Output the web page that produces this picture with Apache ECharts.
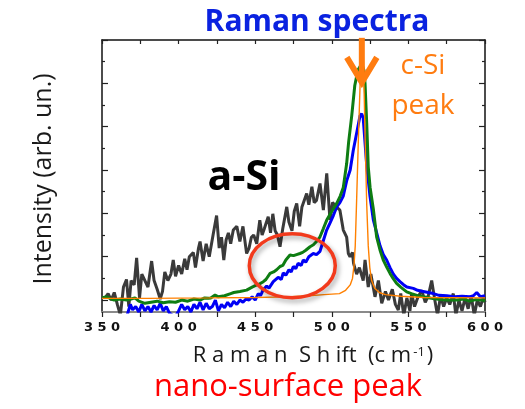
<!DOCTYPE html>
<html>
<head>
<meta charset="utf-8">
<script src="https://cdn.jsdelivr.net/npm/echarts@6/dist/echarts.min.js"></script>
<style>html,body{margin:0;padding:0;background:#fff}#c{width:525px;height:409px}</style>
</head>
<body>
<div id="c"></div>
<script>
// ---- data (Raman shift cm-1, intensity arb. units) ----
const xTicks = [350, 400, 450, 500, 550, 600];
const aSi = [[352,0.1],[354,0.3],[356,0.0],[358,0.35],[360,-0.2],[362,-0.7],[364,0.6],[366,0.95],[367.5,-0.3],[369,0.9],[371,0.7],[372.6,1.95],[374.5,0.1],[376,1.2],[378,0.9],[380,0.6],[382.4,1.8],[384,0.9],[386,0.5],[388,0.05],[389.5,0.4],[391,1.3],[393,0.9],[395,1.2],[396.5,1.85],[398,1.1],[400,1.6],[402,1.2],[404,1.9],[405.5,1.4],[407,2.0],[409.6,2.2],[411,1.5],[413,2.4],[414,2.7],[416,1.8],[418,2.6],[420,2.0],[422.7,3.08],[424.8,3.9],[426.5,2.4],[428,2.9],[429.5,1.85],[431,2.77],[432.5,3.1],[434,2.6],[435.7,3.23],[438,3.4],[440,2.7],[442,3.4],[444.4,2.15],[446,2.4],[447.5,2.9],[449,3.0],[451,2.6],[453,3.69],[454.5,3.0],[456,3.3],[458.5,3.85],[460,3.1],[461.5,3.98],[463,3.2],[464.5,3.0],[466.2,2.46],[468,3.3],[470.6,4.3],[472,3.6],[474,3.2],[475.5,4.1],[477.1,4.46],[479,3.4],[480.5,4.3],[483.6,4.92],[485,4.4],[487,5.23],[488.5,4.5],[490,4.6],[492.3,5.38],[494.5,4.15],[496.7,5.85],[498.8,3.7],[500.5,4.5],[503,4.3],[505.3,4.15],[507.5,3.23],[509.7,2.9],[510.8,2.15],[511.9,2.0],[513.5,2.2],[514.2,1.69],[516.2,1.2],[518,1.5],[520.5,0.9],[521.7,1.85],[523.8,0.6],[525.5,1.2],[528.2,0.15],[530.4,0.9],[532.6,-0.15],[535,0.4],[537,0.0],[539.5,0.5],[541.5,-0.2],[543.4,-0.46],[545,0.3],[547,-0.7],[549,0.1],[551,-0.5],[552.1,0.3],[554,-0.3],[556,0.1],[558.7,0.45],[561,-0.1],[563,0.2],[565.2,0.9],[567,0.1],[569,-0.7],[571,0.2],[573,-0.3],[575,0.1],[577,-0.2],[579.3,0.3],[581,-0.7],[583,0.0],[585,-0.5],[587,0.1],[589,-0.4],[591,0.2],[593,-0.7],[595,0.0],[597,-0.3],[599,0.15],[600,-0.1]];
const blueSpec = [[350,-0.9],[360,-0.9],[366,-0.8],[368.5,-0.2],[370,-0.45],[372,-0.3],[374,-0.55],[376,-0.2],[378,-0.5],[380,-0.3],[382,-0.55],[384,-0.25],[386,-0.45],[388,-0.15],[390,-0.5],[392,-0.3],[394,-0.6],[396,-0.7],[398,-0.75],[400,-0.5],[402,-0.2],[404,-0.45],[406,-0.3],[408,-0.55],[410,-0.2],[412,-0.4],[414,-0.1],[416,-0.45],[418,-0.15],[420,-0.4],[422,-0.3],[424,0.0],[426,-0.5],[428,-0.2],[430,-0.35],[432,-0.1],[434,-0.3],[436,-0.05],[438,-0.2],[440,0.0],[442,-0.1],[444,0.05],[446,0.0],[448,0.15],[450,0.0],[452,0.3],[453.5,0.2],[455,0.45],[457.5,0.65],[459,0.55],[461.8,0.85],[463,0.8],[465,1.05],[467,0.95],[468.3,1.25],[470,1.15],[472,1.4],[473.5,1.3],[474.9,1.55],[476.5,1.45],[478,1.7],[480,1.6],[481.4,1.85],[483,1.75],[485,2.0],[487.9,2.15],[490,2.1],[492.3,2.25],[494.5,2.75],[496.5,3.2],[498.8,3.55],[501,3.9],[503.2,4.3],[505.3,4.5],[507.5,4.8],[509.7,5.5],[512,6.0],[514,6.9],[516.2,7.7],[518.4,8.5],[519.5,8.6],[520.5,8.4],[522.8,6.2],[524.9,4.8],[527.1,3.7],[529.3,3.1],[531.5,2.5],[533.6,2.1],[535.8,1.85],[538,1.5],[540.2,1.2],[542.3,1.0],[544.5,0.85],[547,0.7],[549,0.6],[553.2,0.54],[556,0.45],[559.7,0.4],[563,0.35],[566.3,0.3],[570,0.22],[575,0.2],[580,0.15],[585,0.18],[590,0.15],[592.4,0.2],[594.6,0.35],[597,0.15],[600,0.2]];
const greenSpec = [[350,0.1],[353,0.15],[356,0.05],[358,0.0],[362,0.05],[366,0.0],[369,0.05],[371.5,0.1],[374,-0.05],[378,-0.15],[382,-0.1],[386,-0.05],[390,-0.12],[394,-0.08],[398,-0.1],[402,0.0],[406,-0.05],[410,0.05],[414,0.0],[417,0.1],[419.4,0.08],[421,0.1],[423.8,0.23],[426,0.15],[430,0.2],[434,0.3],[436,0.35],[440,0.4],[444.4,0.46],[448,0.6],[451,0.7],[453,0.75],[455.3,0.85],[457,0.95],[459.7,1.23],[462,1.3],[464,1.4],[466.2,1.55],[468,1.6],[470,1.85],[472.7,2.08],[475,2.05],[477,2.1],[479.2,2.15],[481,2.2],[483,2.3],[485.8,2.46],[488,2.55],[490,2.7],[492.3,2.92],[494.5,3.3],[496.7,3.69],[500,4.1],[503.2,4.46],[505.5,4.8],[507.5,5.2],[509.7,6.3],[511,7.3],[513,8.5],[515,9.9],[517,10.6],[519.5,10.9],[521,10.6],[521.7,10.0],[522.8,8.15],[523.8,6.15],[525,5.2],[527.1,4.2],[529.3,2.9],[531.5,2.3],[533.6,1.85],[536,1.5],[538,1.23],[540,1.0],[542.3,0.77],[545,0.6],[548.9,0.38],[552,0.3],[556,0.2],[559.7,0.15],[565,0.08],[570.6,0.03],[575,0.0],[581.5,0.0],[586,0.05],[590,-0.05],[594,0.02],[598.9,0.0],[600,-0.05]];
const cSiPeak = [[350,0.08],[380,0.08],[420,0.1],[450,0.12],[470,0.15],[485,0.2],[495,0.25],[505,0.3],[509,0.45],[512,0.7],[513.5,1.0],[514.5,1.6],[515.3,2.5],[516.2,4.6],[517.3,7.3],[518.4,9.8],[519.3,11.8],[519.8,12.3],[520.5,11.5],[521.2,9.3],[521.8,7.3],[522.8,4.4],[523.8,2.5],[524.8,1.5],[526,0.9],[528,0.55],[531,0.35],[535,0.25],[545,0.18],[560,0.12],[600,0.1]];
const yMajor = [0, 2, 4, 6, 8, 10, 12];
const yMinor = [1, 3, 5, 7, 9, 11];
const arrowAt = [519.6, 12.1, 10.0];
const ellipseAt = [474.2, 1.58];

const chart = echarts.init(document.getElementById('c'), null, {renderer: 'canvas'});
const yBase = {type: 'value', min: -0.55, max: 12, axisLabel: {show: false}, splitLine: {show: false}};
function yAx(pos, vals, len, line) {
  return Object.assign({}, yBase, {
    position: pos,
    axisLine: {show: line, onZero: false, lineStyle: {color: '#111', width: 1.5}},
    axisTick: {show: true, inside: true, length: len, customValues: vals, lineStyle: {color: '#222', width: 1.2}}
  });
}
const FONT = '"Open Sans", sans-serif';
const lineSeries = (name, data, color, w, z) => ({
  name, type: 'line', data, showSymbol: false, symbol: 'none', z,
  lineStyle: {color, width: w}, itemStyle: {color}, animation: false
});
chart.setOption({
  animation: false,
  grid: {left: 102, right: 40, top: 40, bottom: 97},
  xAxis: [
    {type: 'value', min: 350, max: 600, interval: 25, position: 'bottom',
     axisLine: {onZero: false, lineStyle: {color: '#8a8a8a', width: 2}},
     axisTick: {inside: false, length: 5, lineStyle: {color: '#222', width: 1.2}},
     axisLabel: {margin: 9, color: '#111', fontFamily: '"DejaVu Sans"', fontWeight: 'bold', fontSize: 13,
       formatter: v => xTicks.includes(v) ? String(v).split('').join(' ') : ''},
     splitLine: {show: false}},
    {type: 'value', min: 350, max: 600, interval: 25, position: 'top',
     axisLine: {onZero: false, lineStyle: {color: '#111', width: 1.5}},
     axisTick: {inside: true, length: 4, lineStyle: {color: '#222', width: 1.2}},
     axisLabel: {show: false}, splitLine: {show: false}}
  ],
  yAxis: [yAx('left', yMajor, 6, true), yAx('left', yMinor, 3, false), yAx('right', yMajor, 6, true), yAx('right', yMinor, 3, false)],
  series: [
    lineSeries('a-Si', aSi, '#3a3a3a', 3, 2),
    lineSeries('blue', blueSpec, '#0000f5', 3, 3),
    lineSeries('green', greenSpec, '#0e7d12', 3, 4),
    lineSeries('c-Si', cSiPeak, '#ff8000', 1.4, 5),
    {type: 'custom', data: [ellipseAt], z: 6, clip: false, animation: false,
     renderItem: (p, api) => {
       const c = api.coord([api.value(0), api.value(1)]);
       return {type: 'ellipse', shape: {cx: c[0], cy: c[1], rx: 43, ry: 32},
         style: {fill: null, stroke: '#f23a1c', lineWidth: 3.5, shadowBlur: 5, shadowOffsetX: 2, shadowOffsetY: 3, shadowColor: 'rgba(0,0,0,0.35)'}};
     }},
    {type: 'custom', data: [arrowAt], z: 7, clip: false, animation: false,
     renderItem: (p, api) => {
       const top = api.coord([api.value(0), api.value(1)]);
       const tip = api.coord([api.value(0), api.value(2)]);
       const st = {stroke: '#ff7c10', lineWidth: 6, fill: null, lineJoin: 'miter', lineCap: 'butt'};
       return {type: 'group', children: [
         {type: 'line', shape: {x1: top[0], y1: top[1], x2: tip[0], y2: tip[1] - 2}, style: st},
         {type: 'polyline', shape: {points: [[tip[0] - 15, tip[1] - 26], [tip[0], tip[1] - 1], [tip[0] + 15, tip[1] - 26]]}, style: st}
       ]};
     }}
  ],
  graphic: [
    {type: 'text', style: {text: 'Raman spectra', font: 'bold 30px ' + FONT, fill: '#0a22e0', textAlign: 'center', textVerticalAlign: 'middle', x: 317, y: 22}},
    {type: 'text', style: {text: 'c-Si', font: '28px ' + FONT, fill: '#ff7c10', textAlign: 'center', textVerticalAlign: 'middle', x: 423, y: 66}},
    {type: 'text', style: {text: 'peak', font: '28px ' + FONT, fill: '#ff7c10', textAlign: 'center', textVerticalAlign: 'middle', x: 423, y: 106}},
    {type: 'text', style: {text: 'a-Si', font: 'bold 41px ' + FONT, fill: '#000', textAlign: 'center', textVerticalAlign: 'middle', x: 244, y: 178}},
    {type: 'text', style: {text: '{a|R a m a n  S h ift  (c m}{s|-1}{a|)}', textAlign: 'center', textVerticalAlign: 'middle', x: 313, y: 356,
      rich: {a: {font: '22px ' + FONT, fill: '#1a1a1a'}, s: {font: '13px ' + FONT, fill: '#1a1a1a', padding: [0, 2, 8, 2]}}}},
    {type: 'text', style: {text: 'nano-surface peak', font: '31px ' + FONT, fill: '#ff0000', textAlign: 'center', textVerticalAlign: 'middle', x: 288, y: 387}},
    {type: 'text', rotation: Math.PI / 2, x: 44, y: 179, style: {text: 'Intensity (arb. un.)', font: '25px ' + FONT, fill: '#1a1a1a', textAlign: 'center', textVerticalAlign: 'middle', x: 0, y: 0}}
  ]
});
</script>
</body>
</html>
